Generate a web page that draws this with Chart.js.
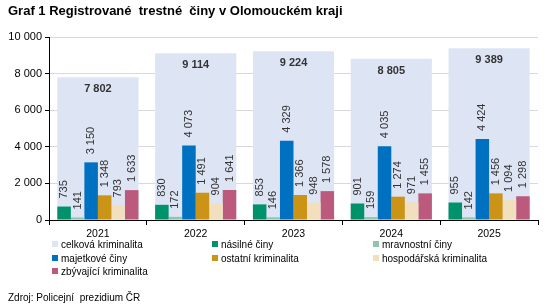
<!DOCTYPE html>
<html><head><meta charset="utf-8">
<script src="https://cdn.jsdelivr.net/npm/chart.js@4/dist/chart.umd.min.js"></script>
<style>
html,body{margin:0;padding:0;background:#fff;}
#wrap{position:relative;width:554px;height:306px;font-family:"Liberation Sans",Arial,sans-serif;color:#000;}
canvas{position:absolute;left:0;top:0;}
#title{position:absolute;left:8px;top:3px;font-weight:bold;font-size:13px;white-space:pre;}
#legend{position:absolute;left:0;top:238px;width:554px;font-size:10px;}
.li{position:absolute;white-space:nowrap;line-height:13px;}
.li span.b{position:absolute;left:-9px;top:3px;width:6px;height:6px;}
#src{position:absolute;left:8px;top:292px;font-size:10px;white-space:pre;}
</style></head>
<body><div id="wrap">
<canvas id="c" width="554" height="306"></canvas>
<div id="title">Graf 1 Registrované  trestné  činy v Olomouckém kraji</div>
<div id="legend"></div>
<div id="src">Zdroj: Policejní  prezidium ČR</div>
</div>
<script>
const years = ['2021','2022','2023','2024','2025'];
const celkova = [7802, 9114, 9224, 8805, 9389];
const nasilne = [735, 830, 853, 901, 955];
const mravnostni = [141, 172, 146, 159, 142];
const majetkove = [3150, 4073, 4329, 4035, 4424];
const ostatni = [1348, 1491, 1366, 1274, 1456];
const hospodarska = [793, 904, 948, 971, 1094];
const zbyvajici = [1633, 1641, 1578, 1455, 1298];
const yTicks = [0, 2000, 4000, 6000, 8000, 10000];

const seriesNames = ['celková kriminalita','násilné činy','mravnostní činy','majetkové činy','ostatní kriminalita','hospodářská kriminalita','zbývající kriminalita'];
const colors = ['#dde4f4','#00926b','#8dc5ad','#0070c0','#cc9416','#f2dfbd','#bb5a7d'];

function fmt(v){ return String(v).replace(/\B(?=(\d{3})+(?!\d))/g,' '); }

const FONT = '"Liberation Sans", Arial, sans-serif';

const labelPlugin = {
  id:'vlabels',
  afterDatasetsDraw(chart){
    const ctx = chart.ctx;
    chart.data.datasets.forEach((ds, di)=>{
      const meta = chart.getDatasetMeta(di);
      meta.data.forEach((el, i)=>{
        const v = ds.data[i];
        ctx.save();
        ctx.fillStyle = '#333';
        if (di === 0){
          ctx.font = 'bold 11px ' + FONT;
          ctx.textAlign = 'center';
          ctx.textBaseline = 'middle';
          ctx.fillText(fmt(v), el.x, el.y + 12);
        } else {
          ctx.font = '11px ' + FONT;
          ctx.translate(el.x, el.y - 8);
          ctx.rotate(-Math.PI/2);
          ctx.textAlign = 'left';
          ctx.textBaseline = 'middle';
          ctx.fillText(fmt(v), 0, 0);
        }
        ctx.restore();
      });
    });
  }
};

const subData = [nasilne, mravnostni, majetkove, ostatni, hospodarska, zbyvajici];
const datasets = [{
  label: seriesNames[0], data: celkova, backgroundColor: colors[0],
  grouped:false, order: 1, categoryPercentage: 0.83, barPercentage: 1
}];
subData.forEach((d, k)=>{
  datasets.push({label: seriesNames[k+1], data: d, backgroundColor: colors[k+1],
    order: 0, categoryPercentage: 0.83, barPercentage: 1});
});

new Chart(document.getElementById('c'), {
  type:'bar',
  data:{labels: years, datasets},
  options:{
    responsive:false, animation:false, devicePixelRatio:1,
    layout:{padding:{left:0, right:16, top:37, bottom:66}},
    plugins:{legend:{display:false}, tooltip:{enabled:false}, title:{display:false}},
    scales:{
      x:{
        type:'category', offset:true,
        grid:{offset:true, drawOnChartArea:false, drawTicks:true, tickLength:5, tickColor:'#000'},
        border:{display:true, color:'#000', width:1},
        ticks:{color:'#000', font:{family:FONT, size:10.5}, padding:3, maxRotation:0},
        afterFit(s){ s.height = 20; }
      },
      y:{
        min:0, max:10000,
        afterBuildTicks(s){ s.ticks = yTicks.map(v=>({value:v})); },
        ticks:{color:'#000', font:{family:FONT, size:11}, padding:3, callback:(v)=>fmt(v)},
        grid:{color:(c)=> c.tick && c.tick.value===0 ? 'rgba(0,0,0,0)' : '#d9d9d9', tickColor:'#000', tickLength:4, lineWidth:1},
        border:{display:true, color:'#000', width:1},
        afterFit(s){ s.width = 49; }
      }
    }
  },
  plugins:[labelPlugin]
});

const legendPos = [[61,0],[221,0],[382,0],[61,1],[221,1],[382,1],[61,2]];
const lg = document.getElementById('legend');
seriesNames.forEach((n, i)=>{
  const d = document.createElement('div');
  d.className='li';
  d.style.left = legendPos[i][0]+'px';
  d.style.top = (legendPos[i][1]*13.5)+'px';
  d.innerHTML = '<span class="b" style="background:'+colors[i]+'"></span>'+n;
  lg.appendChild(d);
});
</script>
</body></html>
